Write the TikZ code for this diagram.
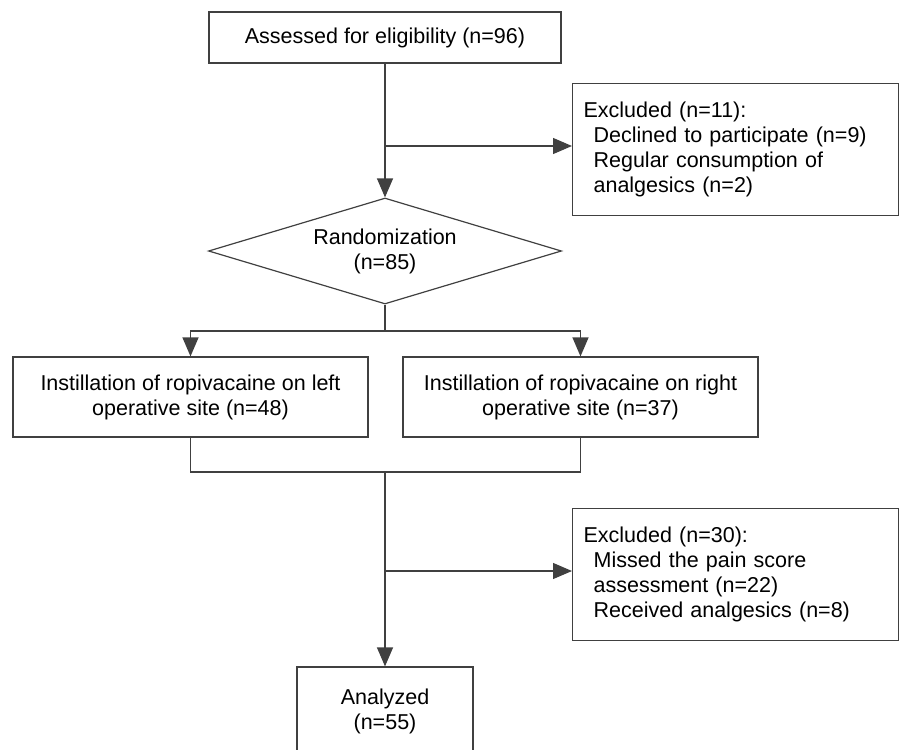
\documentclass[tikz,border=0pt]{standalone}
\usepackage{fontspec}
\setmainfont{Liberation Sans}
\usetikzlibrary{shapes.geometric,arrows.meta}

\begin{document}
\begin{tikzpicture}[x=1pt,y=-1pt,
    font=\fontsize{21.5}{25}\selectfont,
    box/.style={draw=black!75, line width=1.2pt, align=center, inner sep=0pt},
    note/.style={box, align=left, text width=304pt, inner xsep=11pt,
        minimum height=132pt, anchor=north west},
    flow/.style={draw=black!75, line width=1.2pt},
    arr/.style={flow, -{Triangle[length=19pt 0 0,width=16pt 0 0]}}]
    % page frame
    \useasboundingbox (0,0) rectangle (904,749);

    % boxes
    \node[box, minimum width=352pt, minimum height=51pt] (assess) at (385,37.5)
        {Assessed for eligibility (n=96)};
    \node[note] (excl1) at (572,83)
        {Excluded (n=11):\\\hspace*{10pt}Declined to participate (n=9)\\
         \hspace*{10pt}Regular consumption of\\\hspace*{10pt}analgesics (n=2)};
    \node[box, diamond, aspect=3.33, minimum width=353pt, minimum height=106pt]
        (rand) at (385,251) {Randomization\\(n=85)};
    \node[box, minimum width=355pt, minimum height=80pt] (left) at (190.5,397)
        {Instillation of ropivacaine on left\\operative site (n=48)};
    \node[box, minimum width=355pt, minimum height=80pt] (right) at (580.5,397)
        {Instillation of ropivacaine on right\\operative site (n=37)};
    \node[note] (excl2) at (572,508)
        {Excluded (n=30):\\\hspace*{10pt}Missed the pain score\\
         \hspace*{10pt}assessment (n=22)\\\hspace*{10pt}Received analgesics (n=8)};
    \node[box, minimum width=176pt, minimum height=89pt] (anal) at (385,711.5)
        {Analyzed\\(n=55)};

    % connectors
    \coordinate (split1) at (385,146);
    \coordinate (fork) at (385,331);
    \coordinate (merge) at (385,472);
    \coordinate (split2) at (385,571);
    \draw[arr] (assess.south) -- (rand.north);
    \draw[arr] (split1) -- (split1 -| excl1.west);
    \draw[flow] (rand.south) -- (fork);
    \draw[arr] (fork) -| (left.north);
    \draw[arr] (fork) -| (right.north);
    \draw[flow] (left.south) |- (merge);
    \draw[flow] (right.south) |- (merge);
    \draw[arr] (merge) -- (anal.north);
    \draw[arr] (split2) -- (split2 -| excl2.west);
\end{tikzpicture}
\end{document}
